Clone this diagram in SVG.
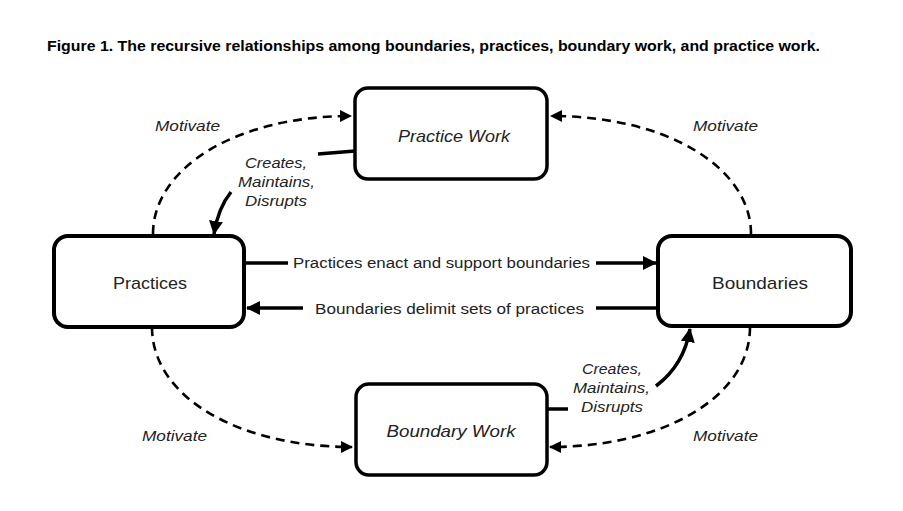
<svg xmlns="http://www.w3.org/2000/svg" width="903" height="511" viewBox="0 0 903 511">
<style>
.box{fill:#fff;stroke:#000;stroke-width:3.5}
.box2{fill:#fff;stroke:#000;stroke-width:4}
.node{font-family:"Liberation Sans",Arial,sans-serif;font-size:17px;fill:#222;text-anchor:middle}
.it{font-style:italic}
.lbl{font-family:"Liberation Sans",Arial,sans-serif;font-size:15.5px;fill:#222}
.lab{font-family:"Liberation Sans",Arial,sans-serif;font-size:15px;font-style:italic;fill:#222}
.solid{fill:none;stroke:#000;stroke-width:3.5}
.dash{fill:none;stroke:#000;stroke-width:2.6;stroke-dasharray:9 6}
</style>
<defs>
<marker id="ah" markerWidth="12" markerHeight="12" viewBox="0 0 12 12" refX="11" refY="6" orient="auto" markerUnits="userSpaceOnUse">
<path d="M0,0 L12,6 L0,12 z" fill="#000"/>
</marker>
<marker id="ahs" markerWidth="14" markerHeight="14" viewBox="0 0 14 14" refX="13" refY="7" orient="auto" markerUnits="userSpaceOnUse">
<path d="M0,0 L14,7 L0,14 z" fill="#000"/>
</marker>
</defs>
<rect width="903" height="511" fill="#fff"/>
<text x="47" y="50.5" font-family="'Liberation Sans',Arial,sans-serif" font-size="14.5" font-weight="bold" fill="#000" textLength="773" lengthAdjust="spacingAndGlyphs">Figure 1. The recursive relationships among boundaries, practices, boundary work, and practice work.</text>

<g id="connectors">
<path class="dash" d="M153,234 C153,168 236,116 351,116" marker-end="url(#ah)"/>
<path class="dash" d="M751,234 C751,168 668,116 551,116" marker-end="url(#ah)"/>
<path class="dash" d="M152,327 C152,398 240,447 352,447" marker-end="url(#ah)"/>
<path class="dash" d="M750,327 C750,398 662,447 550,447" marker-end="url(#ah)"/>
<path class="solid" d="M245,263 L288,263"/>
<path class="solid" d="M596,263 L656,263" marker-end="url(#ahs)"/>
<path class="solid" d="M657,308 L596,308"/>
<path class="solid" d="M303,308 L247,308" marker-end="url(#ahs)"/>
<path class="solid" d="M355,151 L318,154"/>
<path class="solid" d="M231,192 Q218,208 214,234" marker-end="url(#ahs)"/>
<path class="solid" d="M547,409 L568,409"/>
<path class="solid" d="M656,386 Q684,365 690,329" marker-end="url(#ahs)"/>
<text class="lbl" x="293" y="268" textLength="297" lengthAdjust="spacingAndGlyphs">Practices enact and support boundaries</text>
<text class="lbl" x="315" y="314" textLength="269" lengthAdjust="spacingAndGlyphs">Boundaries delimit sets of practices</text>
<text class="lab" x="155" y="131" textLength="65" lengthAdjust="spacingAndGlyphs">Motivate</text>
<text class="lab" x="693" y="131" textLength="65" lengthAdjust="spacingAndGlyphs">Motivate</text>
<text class="lab" x="142" y="441" textLength="65" lengthAdjust="spacingAndGlyphs">Motivate</text>
<text class="lab" x="693" y="441" textLength="65" lengthAdjust="spacingAndGlyphs">Motivate</text>
<text class="lab" x="245" y="168" textLength="62" lengthAdjust="spacingAndGlyphs">Creates,</text>
<text class="lab" x="238" y="187" textLength="77" lengthAdjust="spacingAndGlyphs">Maintains,</text>
<text class="lab" x="245" y="206" textLength="62" lengthAdjust="spacingAndGlyphs">Disrupts</text>
<text class="lab" x="582" y="374" textLength="60" lengthAdjust="spacingAndGlyphs">Creates,</text>
<text class="lab" x="573" y="393" textLength="77" lengthAdjust="spacingAndGlyphs">Maintains,</text>
<text class="lab" x="581" y="412" textLength="62" lengthAdjust="spacingAndGlyphs">Disrupts</text>
</g>

<g id="practice-work">
<rect class="box" x="355" y="88" width="192" height="91" rx="13"/>
<text class="node it" x="454" y="142" textLength="112" lengthAdjust="spacingAndGlyphs">Practice Work</text>
</g>
<g id="practices">
<rect class="box2" x="54" y="236" width="190" height="91" rx="14"/>
<text class="node" x="150" y="289" textLength="74" lengthAdjust="spacingAndGlyphs">Practices</text>
</g>
<g id="boundaries">
<rect class="box2" x="658" y="236" width="193" height="90" rx="14"/>
<text class="node" x="760" y="289" textLength="96" lengthAdjust="spacingAndGlyphs">Boundaries</text>
</g>
<g id="boundary-work">
<rect class="box" x="356" y="384" width="191" height="91" rx="13"/>
<text class="node it" x="451" y="437" textLength="129" lengthAdjust="spacingAndGlyphs">Boundary Work</text>
</g>
</svg>
